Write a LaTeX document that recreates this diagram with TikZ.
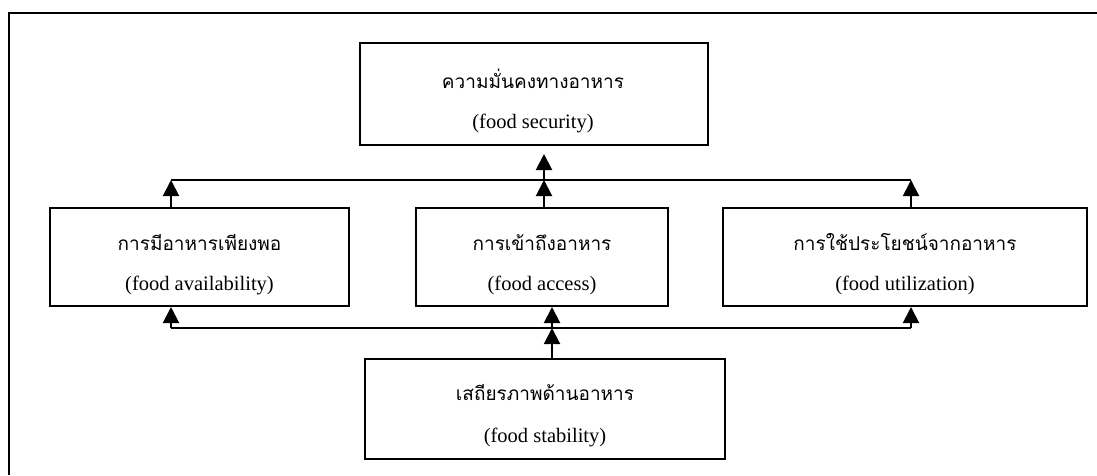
\documentclass[tikz,border=0pt]{standalone}
\usepackage{fontspec}
\setmainfont{Liberation Serif}
\newfontfamily\thaifont[Script=Thai]{Loma}
\usetikzlibrary{arrows.meta}
\tikzset{
  x=1pt, y=-1pt,
  frameline/.style={line width=2pt},
  fbox/.style={draw, line width=2pt, minimum width=#1, inner sep=0pt},
  thaitxt/.style={anchor=base, font=\thaifont\fontsize{19}{22}\selectfont, inner sep=0pt},
  engtxt/.style={anchor=base, font=\fontsize{20.5}{24}\selectfont, inner sep=0pt},
  conn/.style={line width=2pt},
  arr/.style={line width=2pt, -{Triangle[length=16pt,width=16pt]}},
}
\begin{document}
\begin{tikzpicture}
\useasboundingbox (0,0) rectangle (1097,475);
% outer frame (top and left edges)
\coordinate (fa) at (9,475);
\coordinate (fb) at (9,13);
\coordinate (fc) at (1097,13);
\draw[frameline] (fa) -- (fb) -- (fc);

% boxes
\node[fbox=348pt, minimum height=102pt] (sec) at (534,94) {};
\node[fbox=299pt, minimum height=98pt] (avl) at (199.5,257) {};
\node[fbox=252pt, minimum height=98pt] (acc) at (542,257) {};
\node[fbox=364pt, minimum height=98pt] (utl) at (905,257) {};
\node[fbox=360pt, minimum height=100pt] (stb) at (545,409) {};

% texts
\node[thaitxt] (secT) at (533,88) {ความมั่นคงทางอาหาร};
\node[engtxt] (secE) at (533,128) {(food security)};
\node[thaitxt] (avlT) at (199.5,250) {การมีอาหารเพียงพอ};
\node[engtxt] (avlE) at (199.5,290) {(food availability)};
\node[thaitxt] (accT) at (542,250) {การเข้าถึงอาหาร};
\node[engtxt] (accE) at (542,290) {(food access)};
\node[thaitxt] (utlT) at (905,250) {การใช้ประโยชน์จากอาหาร};
\node[engtxt] (utlE) at (905,290) {(food utilization)};
\node[thaitxt] (stbT) at (545,400) {เสถียรภาพด้านอาหาร};
\node[engtxt] (stbE) at (545,442) {(food stability)};

% upper bus
\coordinate (ul) at (171,180);
\coordinate (um) at (544,180);
\coordinate (ur) at (911,180);
\coordinate (ut) at (544,154);
\draw[conn] (ul) -- (ur);
\draw[arr] (ul |- avl.north) -- (ul);
\draw[arr] (um |- acc.north) -- (um);
\draw[arr] (ur |- utl.north) -- (ur);
\draw[arr] (um) -- (ut);

% lower bus
\coordinate (ll) at (171,328);
\coordinate (lm) at (552,328);
\coordinate (lr) at (911,328);
\draw[conn] (ll) -- (lr);
\draw[arr] (ll) -- (ll |- avl.south);
\draw[arr] (lm) -- (lm |- acc.south);
\draw[arr] (lr) -- (lr |- utl.south);
\draw[arr] (lm |- stb.north) -- (lm);
\end{tikzpicture}
\end{document}
